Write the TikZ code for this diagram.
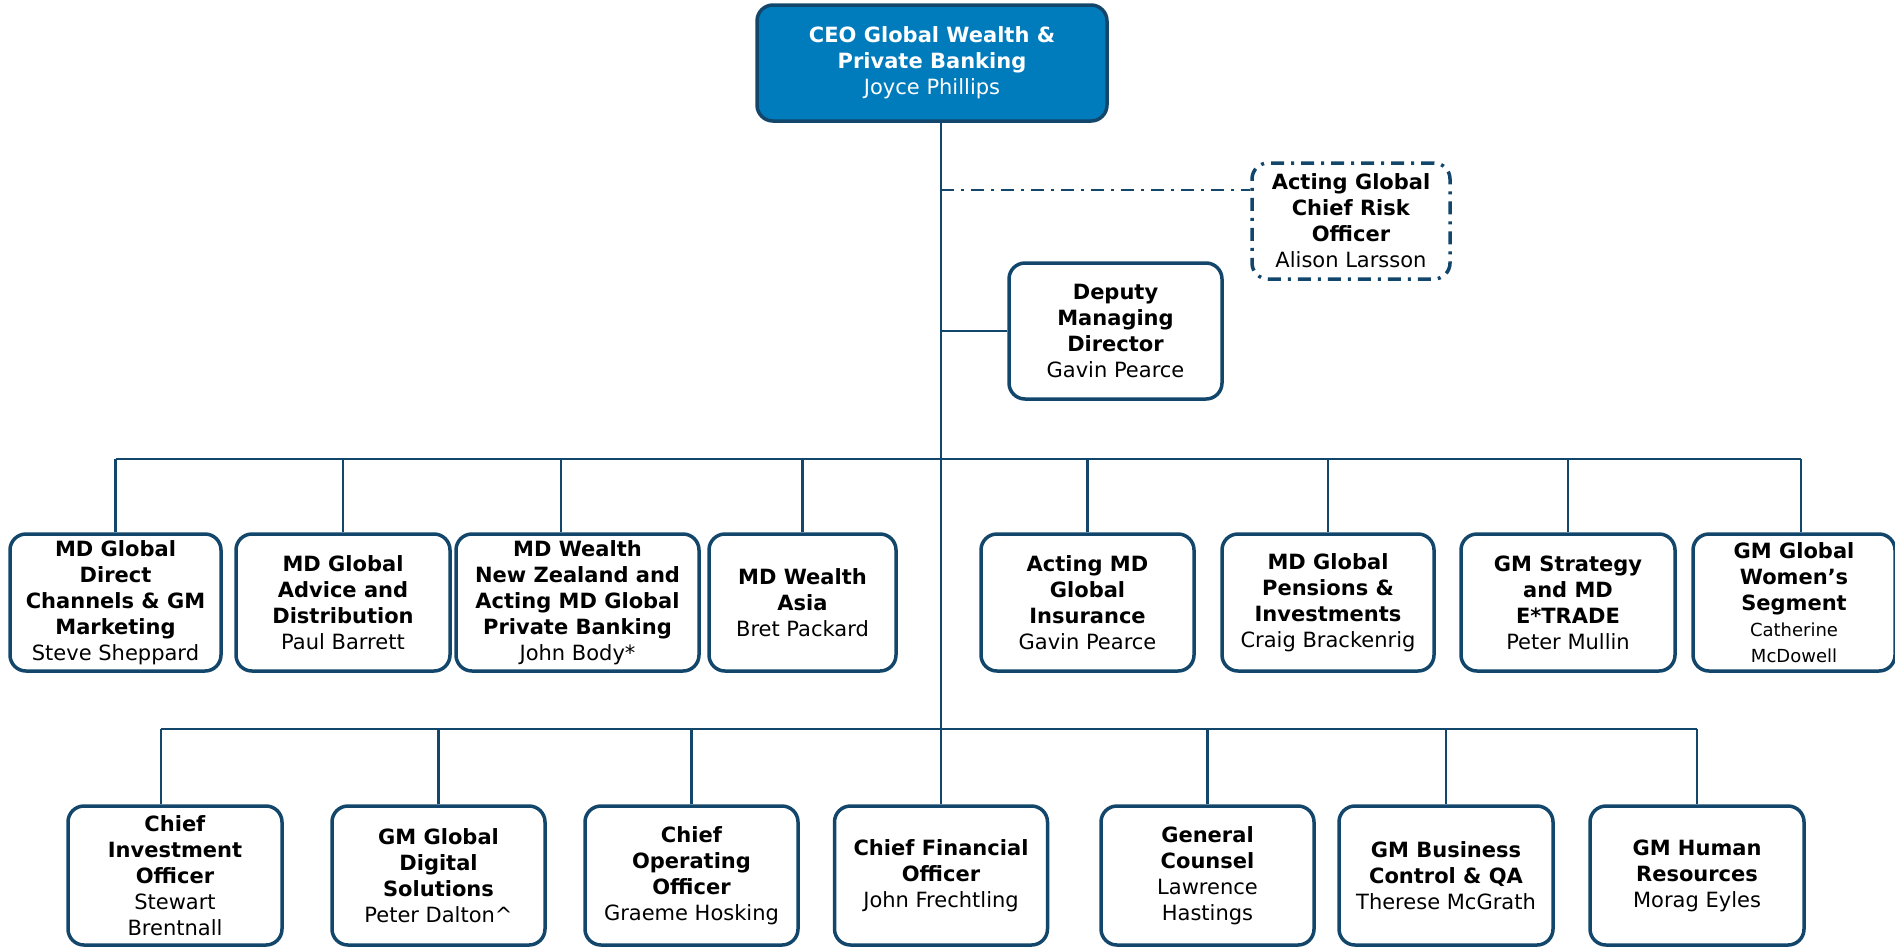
\documentclass[tikz,border=0pt]{standalone}
\usepackage{fontspec}
\setmainfont{DejaVu Sans}
\definecolor{navy}{HTML}{12466B}
\definecolor{ceoblue}{HTML}{007CBD}
\tikzset{
  orgbox/.style={draw=navy, line width=3.5pt, rounded corners=16pt, fill=white,
    align=center, inner sep=0pt, text=black,
    font=\fontsize{21}{26}\selectfont},
  link/.style={draw=navy, line width=2.4pt},
  dashdot/.style={dash pattern=on 13pt off 7pt on 3pt off 7pt}
}
\newcommand{\smallname}{\fontsize{18}{23}\selectfont}
\begin{document}
\begin{tikzpicture}[x=1pt,y=-1pt]
\useasboundingbox (0,0) rectangle (1895,946);
\coordinate (crolink) at (941,190);
\coordinate (bus1) at (941,459);
\coordinate (bus2) at (941,729);
\coordinate (tr) at (941,121);
% CEO
\node[orgbox, fill=ceoblue, text=white, minimum width=350, minimum height=116] (ceo) at (932,63)
  {\textbf{CEO Global Wealth \&}\\\textbf{Private Banking}\\Joyce Phillips};
% CRO
\node[orgbox, dashdot, minimum width=198, minimum height=116] (cro) at (1351,221)
  {\textbf{Acting Global}\\\textbf{Chief Risk}\\\textbf{Officer}\\Alison Larsson};
% Deputy MD
\node[orgbox, minimum width=213, minimum height=136] (dmd) at (1115.5,331)
  {\textbf{Deputy}\\\textbf{Managing}\\\textbf{Director}\\Gavin Pearce};
% Row 1
\node[orgbox, minimum width=211, minimum height=137] (r1a) at (115.5,602.5)
  {\textbf{MD Global}\\\textbf{Direct}\\\textbf{Channels \& GM}\\\textbf{Marketing}\\Steve Sheppard};
\node[orgbox, minimum width=214, minimum height=137] (r1b) at (343,602.5)
  {\textbf{MD Global}\\\textbf{Advice and}\\\textbf{Distribution}\\Paul Barrett};
\node[orgbox, minimum width=243, minimum height=137] (r1c) at (577.5,602.5)
  {\textbf{MD Wealth}\\\textbf{New Zealand and}\\\textbf{Acting MD Global}\\\textbf{Private Banking}\\John Body*};
\node[orgbox, minimum width=187, minimum height=137] (r1d) at (802.5,602.5)
  {\textbf{MD Wealth}\\\textbf{Asia}\\Bret Packard};
\node[orgbox, minimum width=213, minimum height=137] (r1e) at (1087.5,602.5)
  {\textbf{Acting MD}\\\textbf{Global}\\\textbf{Insurance}\\Gavin Pearce};
\node[orgbox, minimum width=212, minimum height=137] (r1f) at (1328,602.5)
  {\textbf{MD Global}\\\textbf{Pensions \&}\\\textbf{Investments}\\Craig Brackenrig};
\node[orgbox, minimum width=214, minimum height=137] (r1g) at (1568,602.5)
  {\textbf{GM Strategy}\\\textbf{and MD}\\\textbf{E*TRADE}\\Peter Mullin};
\node[orgbox, minimum width=202, minimum height=137] (r1h) at (1794,602.5)
  {\textbf{GM Global}\\\textbf{Women’s}\\\textbf{Segment}\\\smallname Catherine\\\smallname McDowell};
% Row 2
\node[orgbox, minimum width=214, minimum height=139] (r2a) at (175,875.5)
  {\textbf{Chief}\\\textbf{Investment}\\\textbf{Officer}\\Stewart\\Brentnall};
\node[orgbox, minimum width=213, minimum height=139] (r2b) at (438.5,875.5)
  {\textbf{GM Global}\\\textbf{Digital}\\\textbf{Solutions}\\Peter Dalton\textasciicircum};
\node[orgbox, minimum width=213, minimum height=139] (r2c) at (691.5,875.5)
  {\textbf{Chief}\\\textbf{Operating}\\\textbf{Officer}\\Graeme Hosking};
\node[orgbox, minimum width=213, minimum height=139] (r2d) at (941,875.5)
  {\textbf{Chief Financial}\\\textbf{Officer}\\John Frechtling};
\node[orgbox, minimum width=213, minimum height=139] (r2e) at (1207.5,875.5)
  {\textbf{General}\\\textbf{Counsel}\\Lawrence\\Hastings};
\node[orgbox, minimum width=214, minimum height=139] (r2f) at (1446,875.5)
  {\textbf{GM Business}\\\textbf{Control \& QA}\\Therese McGrath};
\node[orgbox, minimum width=214, minimum height=139] (r2g) at (1697,875.5)
  {\textbf{GM Human}\\\textbf{Resources}\\Morag Eyles};
% drop points that sit off the box centres
\coordinate (d1c) at ([xshift=-16.5pt]r1c.north);
\coordinate (d1h) at ([xshift=7pt]r1h.north);
\coordinate (d2a) at ([xshift=-14pt]r2a.north);
% connectors
\draw[link] (ceo.south -| tr) -- (r2d.north);
\draw[link, dashdot] (crolink) -- (cro.west |- crolink);
\draw[link] (dmd.west) -- (dmd.west -| tr);
\draw[link] (r1a.north |- bus1) -- (d1h |- bus1);
\foreach \n in {r1a.north,r1b.north,d1c,r1d.north,r1e.north,r1f.north,r1g.north,d1h}
  \draw[link] (\n) -- (\n |- bus1);
\draw[link] (d2a |- bus2) -- (r2g.north |- bus2);
\foreach \n in {d2a,r2b.north,r2c.north,r2e.north,r2f.north,r2g.north}
  \draw[link] (\n) -- (\n |- bus2);
\end{tikzpicture}
\end{document}
